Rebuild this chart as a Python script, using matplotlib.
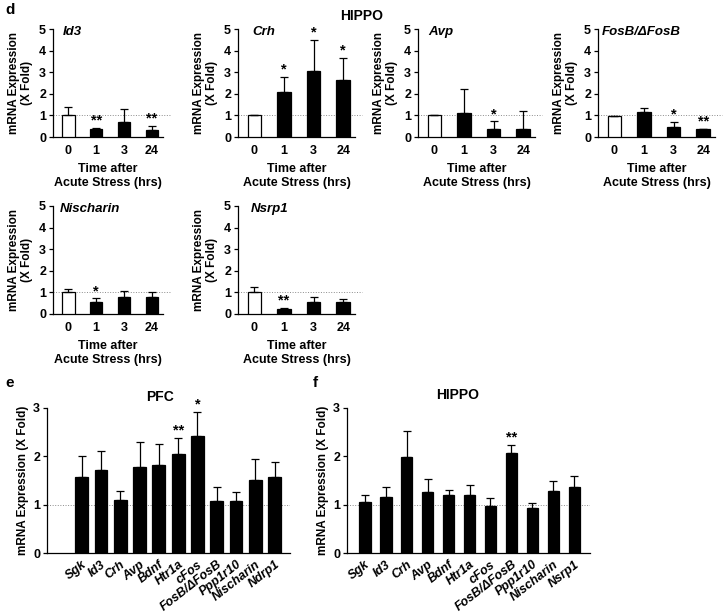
import numpy as np
import matplotlib
matplotlib.use("Agg")
import matplotlib.pyplot as plt

plt.rcParams["font.family"] = ["Liberation Sans", "DejaVu Sans"]
plt.rcParams["font.weight"] = "bold"

# panel d: HIPPO time course
times = ["0", "1", "3", "24"]

id3_mean = [1.00, 0.39, 0.70, 0.34]
id3_err = [0.38, 0.03, 0.58, 0.16]
id3_sig = ["", "**", "", "**"]

crh_mean = [1.00, 2.08, 3.06, 2.64]
crh_err = [0.03, 0.70, 1.45, 1.04]
crh_sig = ["", "*", "*", "*"]

avp_mean = [1.03, 1.12, 0.36, 0.39]
avp_err = [0.01, 1.10, 0.36, 0.81]
avp_sig = ["", "", "*", ""]

fosb_mean = [0.98, 1.18, 0.48, 0.37]
fosb_err = [0.01, 0.18, 0.23, 0.02]
fosb_sig = ["", "", "*", "**"]

nisch_mean = [1.00, 0.57, 0.78, 0.81]
nisch_err = [0.15, 0.15, 0.28, 0.21]
nisch_sig = ["", "*", "", ""]

nsrp1_mean = [1.00, 0.24, 0.55, 0.55]
nsrp1_err = [0.26, 0.04, 0.22, 0.15]
nsrp1_sig = ["", "**", "", ""]

# panel e: PFC
pfc_genes = ["Sgk", "Id3", "Crh", "Avp", "Bdnf", "Htr1a", "cFos", "FosB/ΔFosB",
             "Ppp1r10", "Nischarin", "Ndrp1"]
pfc_mean = [1.58, 1.72, 1.09, 1.78, 1.82, 2.05, 2.43, 1.08, 1.08, 1.52, 1.58]
pfc_err = [0.42, 0.40, 0.19, 0.51, 0.43, 0.33, 0.49, 0.29, 0.18, 0.42, 0.30]
pfc_sig = ["", "", "", "", "", "**", "*", "", "", "", ""]

# panel f: HIPPO
hip_genes = ["Sgk", "Id3", "Crh", "Avp", "Bdnf", "Htr1a", "cFos", "FosB/ΔFosB",
             "Ppp1r10", "Nischarin", "Nsrp1"]
hip_mean = [1.06, 1.16, 1.98, 1.26, 1.19, 1.20, 0.98, 2.06, 0.93, 1.28, 1.36]
hip_err = [0.13, 0.21, 0.54, 0.27, 0.12, 0.21, 0.15, 0.17, 0.10, 0.20, 0.23]
hip_sig = ["", "", "", "", "", "", "", "**", "", "", ""]

W, H = 727, 613
fig = plt.figure(figsize=(W / 100, H / 100), dpi=100)


def box(l, r, b, t):
    return [l / W, 1 - b / H, (r - l) / W, (b - t) / H]


def style(ax):
    for s in ["top", "right"]:
        ax.spines[s].set_visible(False)
    ax.spines["left"].set_linewidth(0.9)
    ax.spines["bottom"].set_linewidth(0.9)
    ax.tick_params(axis="y", direction="out", length=3, width=0.9, labelsize=9, pad=2)
    ax.tick_params(axis="x", length=0, labelsize=9)


d_panels = [
    ("Id3", id3_mean, id3_err, id3_sig, (53, 163, 137, 29), 0.09),
    ("Crh", crh_mean, crh_err, crh_sig, (238, 355, 137, 29), 0.12),
    ("Avp", avp_mean, avp_err, avp_sig, (418, 535, 137, 29), 0.09),
    ("FosB/ΔFosB", fosb_mean, fosb_err, fosb_sig, (598, 715, 137, 29), 0.03),
    ("Nischarin", nisch_mean, nisch_err, nisch_sig, (53, 163, 314, 206), 0.06),
    ("Nsrp1", nsrp1_mean, nsrp1_err, nsrp1_sig, (238, 355, 314, 206), 0.11),
]

for name, mean, err, sig, pos, tx in d_panels:
    ax = fig.add_axes(box(*pos))
    x = np.arange(len(times))
    colors = ["white"] + ["black"] * (len(times) - 1)
    ax.bar(x, mean, width=0.45, color=colors, edgecolor="black", linewidth=0.9,
           yerr=[np.zeros(len(err)), err], error_kw=dict(ecolor="black", elinewidth=0.9,
                                                         capsize=3, capthick=0.9), zorder=3)
    ax.axhline(1, xmin=0, xmax=1.06, color="0.55", lw=0.7, ls=":", clip_on=False, zorder=2)
    for xi, m, e, s in zip(x, mean, err, sig):
        if s:
            ax.text(xi, m + e + 0.02, s, ha="center", va="bottom", fontsize=10.5, fontweight="bold")
    ax.set_xlim(-0.55, 3.4)
    ax.set_ylim(0, 5)
    ax.set_yticks(range(6))
    ax.set_xticks(x)
    ax.set_xticklabels(times, fontweight="bold")
    style(ax)
    ax.tick_params(axis="x", pad=6)
    ax.set_ylabel("mRNA Expression\n(X Fold)", fontsize=8.5, fontweight="bold", labelpad=4)
    ax.set_xlabel("Time after\nAcute Stress (hrs)", fontsize=9, fontweight="bold", labelpad=4)
    ax.text(tx, 0.97, name, transform=ax.transAxes, ha="left", va="center",
            fontsize=9.5, fontweight="bold", style="italic")

fig.text(5 / W, 1 - 10 / H, "d", fontsize=11, fontweight="bold", va="center")
fig.text(362 / W, 1 - 16 / H, "HIPPO", fontsize=10, fontweight="bold", ha="center", va="center")

ef_panels = [
    ("PFC", pfc_genes, pfc_mean, pfc_err, pfc_sig, (47, 290, 553, 408), 0.67, (-1.8, 10.8)),
    ("HIPPO", hip_genes, hip_mean, hip_err, hip_sig, (347, 590, 553, 408), 0.55, (-0.85, 10.75)),
]

for title, genes, mean, err, sig, pos, bw, xl in ef_panels:
    ax = fig.add_axes(box(*pos))
    x = np.arange(len(genes))
    ax.bar(x, mean, width=bw, color="black", edgecolor="black", linewidth=0.9,
           yerr=[np.zeros(len(err)), err], error_kw=dict(ecolor="black", elinewidth=0.9,
                                                         capsize=3, capthick=0.9), zorder=3)
    ax.axhline(1, color="0.55", lw=0.7, ls=":", zorder=2)
    for xi, m, e, s in zip(x, mean, err, sig):
        if s:
            ax.text(xi, m + e + 0.01, s, ha="center", va="bottom", fontsize=10.5, fontweight="bold")
    ax.set_xlim(*xl)
    ax.set_ylim(0, 3)
    ax.set_yticks(range(4))
    ax.set_xticks(x)
    ax.set_xticklabels(genes, rotation=38, ha="right", rotation_mode="anchor",
                       fontstyle="italic", fontweight="bold", fontsize=8.5)
    style(ax)
    ax.tick_params(axis="x", pad=4)
    ax.set_ylabel("mRNA Expression (X Fold)", fontsize=8.5, fontweight="bold", labelpad=3)

fig.text(5 / W, 1 - 383 / H, "e", fontsize=11, fontweight="bold", va="center")
fig.text(313 / W, 1 - 383 / H, "f", fontsize=11, fontweight="bold", va="center")
fig.text(160 / W, 1 - 397 / H, "PFC", fontsize=10, fontweight="bold", ha="center", va="center")
fig.text(458 / W, 1 - 395 / H, "HIPPO", fontsize=10, fontweight="bold", ha="center", va="center")

fig.savefig("out.png", dpi=100)
